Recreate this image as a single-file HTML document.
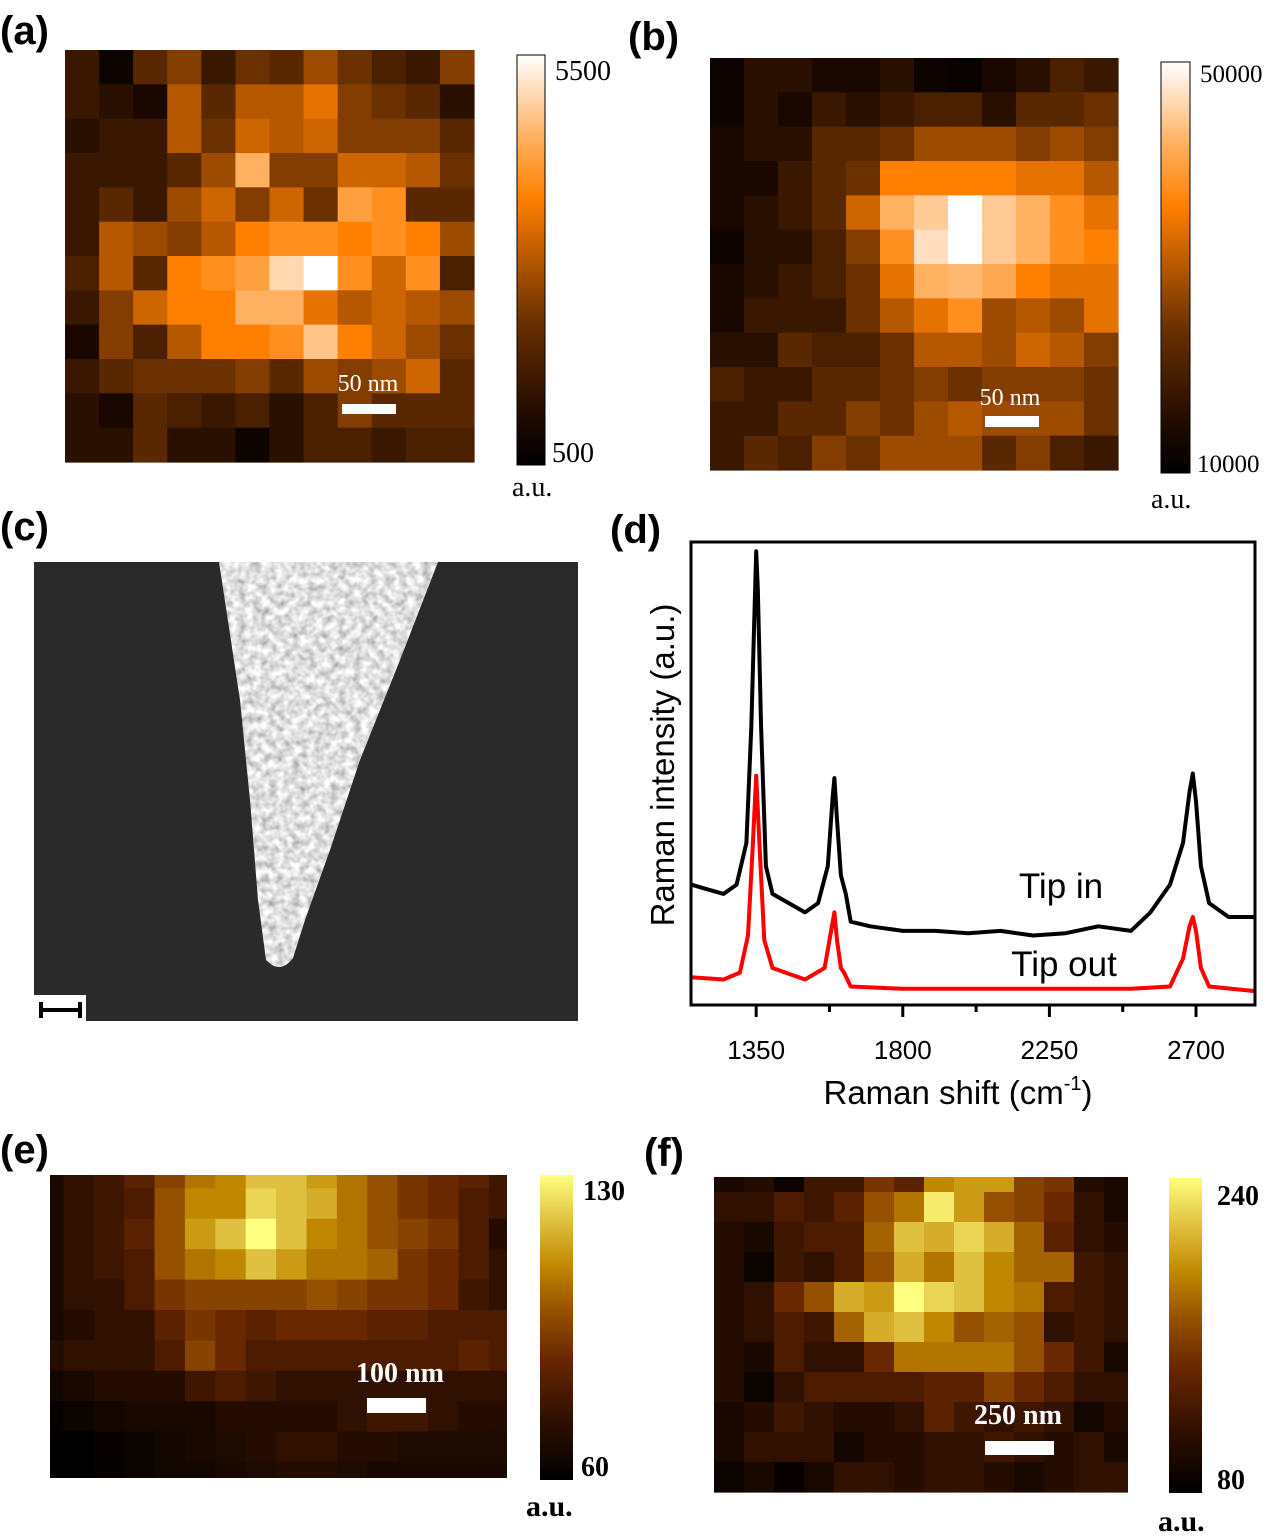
<!DOCTYPE html>
<html><head><meta charset="utf-8">
<style>
html,body{margin:0;padding:0;background:#fff;}
body{width:1280px;height:1540px;position:relative;overflow:hidden;font-family:"Liberation Sans",sans-serif;}
svg{position:absolute;left:0;top:0;}
</style></head>
<body>
<svg id="fig" width="1280" height="1540" viewBox="0 0 1280 1540">
<defs>
<linearGradient id="cbAB" x1="0" y1="1" x2="0" y2="0">
<stop offset="0" stop-color="#000"/><stop offset="0.1" stop-color="#1a0800"/><stop offset="0.35" stop-color="#6a3000"/><stop offset="0.65" stop-color="#ff8000"/><stop offset="0.8" stop-color="#ffb060"/><stop offset="1" stop-color="#fff"/>
</linearGradient>
<linearGradient id="cbEF" x1="0" y1="1" x2="0" y2="0">
<stop offset="0" stop-color="#000"/><stop offset="0.2" stop-color="#301000"/><stop offset="0.4" stop-color="#6a2800"/><stop offset="0.55" stop-color="#955000"/><stop offset="0.7" stop-color="#c08800"/><stop offset="0.85" stop-color="#e0c040"/><stop offset="1" stop-color="#ffff80"/>
</linearGradient>
<filter id="speckle" x="0" y="0" width="100%" height="100%">
<feTurbulence type="fractalNoise" baseFrequency="0.13" numOctaves="2" seed="5" result="n"/>
<feColorMatrix in="n" type="matrix" values="1.0 0 0 0 0.25  1.0 0 0 0 0.25  1.0 0 0 0 0.25  0 0 0 0 1" result="g"/>
<feComposite in="g" in2="SourceAlpha" operator="in"/>
</filter>
<clipPath id="clipE"><rect x="50" y="1175" width="457" height="303"/></clipPath>
<clipPath id="clipF"><rect x="714" y="1177" width="414" height="316"/></clipPath>
<clipPath id="clipD"><rect x="691" y="542" width="564" height="463"/></clipPath>
</defs>
<g id="panelA"></g>
<g id="panelB"></g>
<g id="panelE" clip-path="url(#clipE)"></g>
<g id="panelF" clip-path="url(#clipF)"></g>

<g font-family="Liberation Sans, sans-serif" font-weight="bold" font-size="40" fill="#000">
<text x="0" y="44">(a)</text>
<text x="628" y="50">(b)</text>
<text x="0" y="540">(c)</text>
<text x="610" y="543">(d)</text>
<text x="0" y="1163">(e)</text>
<text x="644" y="1166">(f)</text>
</g>

<rect x="517" y="55" width="28" height="410" fill="url(#cbAB)" stroke="#000" stroke-width="1"/>
<g font-family="Liberation Serif, serif" font-size="28" fill="#000">
<text x="555" y="80">5500</text>
<text x="552" y="462">500</text>
<text x="512" y="496">a.u.</text>
</g>
<rect x="1161" y="62" width="29" height="411" fill="url(#cbAB)" stroke="#000" stroke-width="1"/>
<g font-family="Liberation Serif, serif" font-size="25" fill="#000">
<text x="1200" y="82">50000</text>
<text x="1197" y="472">10000</text>
<text x="1151" y="508" font-size="28">a.u.</text>
</g>
<rect x="540" y="1175" width="33" height="305" fill="url(#cbEF)"/>
<g font-family="Liberation Serif, serif" font-weight="bold" font-size="28" fill="#000">
<text x="583" y="1200">130</text>
<text x="581" y="1476">60</text>
<text x="526" y="1516" font-size="30">a.u.</text>
</g>
<rect x="1169" y="1178" width="33" height="315" fill="url(#cbEF)"/>
<g font-family="Liberation Serif, serif" font-weight="bold" font-size="28" fill="#000">
<text x="1217" y="1205">240</text>
<text x="1217" y="1489">80</text>
<text x="1158" y="1531" font-size="30">a.u.</text>
</g>

<g fill="#fff">
<text x="368" y="391" font-family="Liberation Serif, serif" font-size="24" text-anchor="middle">50 nm</text>
<rect x="342" y="404" width="54" height="10"/>
<text x="1010" y="405" font-family="Liberation Serif, serif" font-size="24" text-anchor="middle">50 nm</text>
<rect x="985" y="416" width="54" height="11"/>
<text x="400" y="1382" font-family="Liberation Serif, serif" font-weight="bold" font-size="28" text-anchor="middle">100 nm</text>
<rect x="367" y="1398" width="59" height="15"/>
<text x="1018" y="1424" font-family="Liberation Serif, serif" font-weight="bold" font-size="28" text-anchor="middle">250 nm</text>
<rect x="985" y="1441" width="69" height="14"/>
</g>

<g>
<rect x="34" y="562" width="544" height="459" fill="#2a2a2a"/>
<path d="M219,562 L438,562 L400,660 L360,760 L330,850 L305,920 L293,958 Q280,975 266,960 L258,900 L250,800 L240,700 Z" fill="#fff" filter="url(#speckle)"/>
<rect x="34" y="995" width="52" height="26" fill="#fff"/>
<path d="M41,1002 V1018 M41,1010 H80 M80,1002 V1018" stroke="#000" stroke-width="4" fill="none"/>
</g>

<g id="panelD">
<g id="dTicks"></g>
<g clip-path="url(#clipD)"><g id="dLines"></g></g>
<rect x="691" y="542" width="564" height="463" fill="none" stroke="#000" stroke-width="3"/>
<text x="1061" y="898" font-size="35" text-anchor="middle">Tip in</text>
<text x="1064" y="976" font-size="35" text-anchor="middle">Tip out</text>
<text transform="translate(674,765) rotate(-90)" font-size="33" text-anchor="middle">Raman intensity (a.u.)</text>
<text x="958" y="1104" font-size="33" text-anchor="middle">Raman shift (cm<tspan font-size="20" dy="-14">-1</tspan><tspan dy="14">)</tspan></text>
</g>
</svg>
<script>
const heatA = [
[2,0.5,3,4,2,3.5,3,4.5,3.5,2.5,2,4],
[2,1.5,1,5,3,5,5,6,4,3.5,3,1.5],
[1.5,2,2,5,3.5,5.5,5,5.5,4,4,4,3],
[2,2,2,3,4.5,8,4,4,5.5,5.5,5,3.5],
[2,3,2,4.5,5.5,4,5.5,3.5,7.5,7,3,3],
[2,5,4.5,4,5,6.5,7,7,6.5,7,6.5,4.5],
[2.5,5,3,6.5,7,7.5,9,10,7,5.5,7,2.5],
[2,4,5.5,6.5,6.5,8,8,6,5,5.5,5,4.5],
[1,4,2.5,5,6.5,6.5,7,8.5,6.5,5.5,4.5,3.5],
[2,3,3.5,3.5,3.5,4,3,4.5,4,4.5,5.5,3],
[1.5,1,3,2.5,2,2.5,1.5,2.5,4,3,3,3],
[1.5,1.5,3,1.5,1.5,0.5,1.5,2.5,2.5,2,2.5,2.5]];
const heatB = [
[0.5,1.5,1.5,1,1,1.5,0.5,0.3,1,1.5,2.5,2],
[0.5,1.5,1,2,1.5,2,2.5,2.5,1.5,3,3,3.5],
[1,1.5,1.5,3,3,3.5,4.5,4.5,4.5,4,4.5,4],
[1,1,2,3,3.5,6.5,6.5,6.5,6.5,6,6,5],
[1,1.5,2,3,5.5,8,8.7,10,8.7,8,7,6],
[0.5,1.5,1.5,2.5,4,7,9.2,10,8.7,8,7,6.5],
[1,1.5,2,2.5,3.5,6,8,8.2,7.8,6.5,6,6],
[1,2,2,2,3.5,5,6,7,4.5,5,4.5,6],
[1.5,1.5,3,2.5,2.5,3.5,5,5,4.5,5.5,5,4],
[2.5,2,2,3,3,3.5,4,3.5,4,4,4,3.5],
[2,2,3,3,4,3.5,4.5,5,4.5,4.5,4.5,3.5],
[2,3,2.5,4,3.5,4.5,4.5,4.5,3,4,2.5,2]];
const heatE = [
[1,2,2.5,3.5,5,6.5,7,8.5,8.5,7.5,6.5,5.5,4.5,4,3.5,2.5],
[1,2,2.5,3,5.5,7,7,9,8.5,8,6.5,5.5,4.5,4,3,2.5],
[1,2,2.5,3.5,5.5,7.5,8.5,10,8.5,7,6.5,5.5,5,4.5,3,1.5],
[1,2,2.5,3,5.5,6.5,7,8.5,7.5,6.5,6.5,6,4.5,4,3,2],
[1,2,2,3,4.5,5,5,5,5,5.5,5,4.5,4.5,4,2.5,2],
[1,1.5,2,2,3.5,4.5,4,3.5,4,4,4,3.5,3.5,3,3,3],
[1.5,2,2,2,3,5,4,3,3,3,3,3,3,3,3.5,3],
[0.7,1,1.5,1.5,1.5,2.5,3,2.5,2,2,2,2,2,2,2,2],
[0.3,0.5,0.8,1,1,1,1.5,1.5,1.5,1.5,2,2.5,2.5,2,1.5,1.5],
[0,0,0.3,0.5,0.8,1,1.2,1.5,2,2,1.5,1.5,1.2,1.2,1.2,1.2],
[0,0,0.2,0.5,0.7,0.8,1,1.2,1.5,1.5,1.2,1,1,1,1,1]];
const heatF = [
[1,1.5,0.5,2.5,2.5,4.5,3.5,7,7.5,7.5,5,4.5,1.5,1],
[2,2,3,2.5,3.5,5.5,6.5,9.5,7.5,5.5,5,4,2,1],
[1.5,1,2.5,3,3,6,8.5,8,9,8,6,3.5,2,1.5],
[1.5,0.5,2.5,2,3,5.5,8,6.5,8.5,7,6,6,2.5,2],
[1.5,2,4,5.5,8,7.5,10,9,8.5,7,6.5,3,2.5,2],
[1.5,2,3,2.5,6,8,8.5,7,5.5,6,5.5,2,2.5,2],
[1.5,1,3,2,2,4,6.5,6.5,6.5,6.5,5.5,4,2.5,1],
[1.5,0.5,2,3,3,3,3,3.5,3.5,5,4,3,2,2],
[1,1.5,2.5,2,1.5,1.5,2,3.5,2.5,2,2.5,2,0.8,1.5],
[1,2,2,2,0.8,1.5,1.5,2,2,2.5,2,1.5,2,1],
[0.5,1,0.3,1,2,2,1.5,2,2,1.5,1,1.5,2,2]];

const tipInX = [1150,1200,1250,1290,1320,1335,1345,1350,1355,1365,1380,1400,1450,1500,1540,1570,1585,1590,1598,1610,1625,1640,1700,1800,1900,2000,2100,2200,2300,2400,2500,2560,2620,2660,2680,2690,2700,2715,2740,2800,2881];
const tipInY = [26,25,24,26,35,60,85,98,90,60,30,24,22,20,22,30,45,49,40,28,24,18,17,16,16,15.5,16,15,15.5,17,16,20,26,35,46,50,44,30,22,19,19];
const tipOutX = [1150,1250,1300,1325,1340,1350,1360,1375,1400,1500,1560,1580,1590,1598,1610,1620,1640,1800,2000,2300,2500,2620,2660,2680,2690,2700,2715,2740,2881];
const tipOutY = [6,5.5,7,15,35,49.5,35,14,8,5.5,8,16,20,14,8,7,4,3.5,3.5,3.5,3.5,4,10,17,19,16,8,4,3];
const majorTicks = [1350,1800,2250,2700];
const minorTicks = [1575,2025,2475];
const tickLabels = ["1350","1800","2250","2700"];

const NS = "http://www.w3.org/2000/svg";
function hex(c){return [parseInt(c.slice(1,3),16),parseInt(c.slice(3,5),16),parseInt(c.slice(5,7),16)];}
function cmap(stops,t){
  t=Math.max(0,Math.min(1,t));
  for(let i=1;i<stops.length;i++){
    if(t<=stops[i][0]){
      const a=stops[i-1],b=stops[i],f=(t-a[0])/(b[0]-a[0]);
      const ca=hex(a[1]),cb=hex(b[1]);
      return "rgb("+ca.map((v,k)=>Math.round(v+(cb[k]-v)*f)).join(",")+")";
    }
  }
  return stops[stops.length-1][1];
}
const stopsAB=[[0,"#000000"],[0.1,"#1a0800"],[0.35,"#6a3000"],[0.65,"#ff8000"],[0.8,"#ffb060"],[1,"#ffffff"]];
const stopsEF=[[0,"#000000"],[0.2,"#301000"],[0.4,"#6a2800"],[0.55,"#955000"],[0.7,"#c08800"],[0.85,"#e0c040"],[1,"#ffff80"]];

function drawHeat(gid,data,x0,y0,cw,ch,stops,prefix){
  const g=document.getElementById(gid);
  data.forEach((row,r)=>row.forEach((v,c)=>{
    const el=document.createElementNS(NS,"rect");
    el.setAttribute("x",(x0+c*cw).toFixed(2));
    el.setAttribute("y",(y0+r*ch).toFixed(2));
    el.setAttribute("width",(cw+0.6).toFixed(2));
    el.setAttribute("height",(ch+0.6).toFixed(2));
    el.setAttribute("fill",cmap(stops,v/10));
    
    
    g.appendChild(el);
  }));
}
drawHeat("panelA",heatA,65,50,409/12,412/12,stopsAB,"heatmap-a");
drawHeat("panelB",heatB,710,58,408/12,412/12,stopsAB,"heatmap-b");
drawHeat("panelE",heatE,32.9,1158,30.4,30.4,stopsEF,"heatmap-e");
drawHeat("panelF",heatF,714,1162,30,30,stopsEF,"heatmap-f");

const X0=691,X1=1255,Y0=1005,Y1=542;
const xMin=1150,xMax=2881;
function sx(v){return X0+(v-xMin)/(xMax-xMin)*(X1-X0);}
function sy(v){return Y0-(v/100)*(Y0-Y1);}
function drawLine(xs,ys,color,name){
  const p=document.createElementNS(NS,"polyline");
  p.setAttribute("points",xs.map((x,i)=>sx(x).toFixed(1)+","+sy(ys[i]).toFixed(1)).join(" "));
  p.setAttribute("fill","none");
  p.setAttribute("stroke",color);
  p.setAttribute("stroke-width","4");
  p.setAttribute("stroke-linejoin","round");
  
  
  document.getElementById("dLines").appendChild(p);
}
drawLine(tipOutX,tipOutY,"#ff0000","series-tip-out");
drawLine(tipInX,tipInY,"#000000","series-tip-in");

const tg=document.getElementById("dTicks");
majorTicks.forEach((t,i)=>{
  const l=document.createElementNS(NS,"line");
  l.setAttribute("x1",sx(t));l.setAttribute("x2",sx(t));
  l.setAttribute("y1",Y0);l.setAttribute("y2",Y0+12);
  l.setAttribute("stroke","#000");l.setAttribute("stroke-width","3");
  
  
  tg.appendChild(l);
  const tx=document.createElementNS(NS,"text");
  tx.setAttribute("x",sx(t));tx.setAttribute("y",1059);
  tx.setAttribute("font-size","26");tx.setAttribute("text-anchor","middle");
  tx.textContent=tickLabels[i];
  
  
  tg.appendChild(tx);
});
minorTicks.forEach(t=>{
  const l=document.createElementNS(NS,"line");
  l.setAttribute("x1",sx(t));l.setAttribute("x2",sx(t));
  l.setAttribute("y1",Y0);l.setAttribute("y2",Y0+7);
  l.setAttribute("stroke","#000");l.setAttribute("stroke-width","3");
  
  
  tg.appendChild(l);
});
</script>
</body></html>
